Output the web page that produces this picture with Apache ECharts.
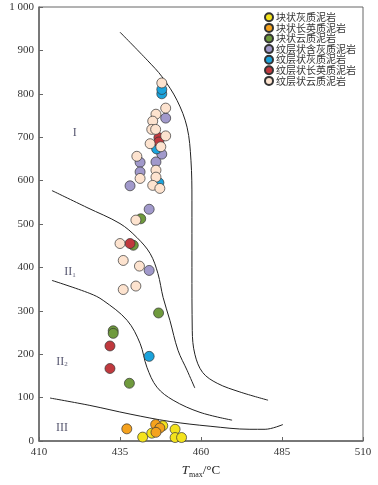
<!DOCTYPE html>
<html><head><meta charset="utf-8">
<script src="https://cdn.jsdelivr.net/npm/echarts@6/dist/echarts.min.js"></script>
<style>html,body{margin:0;padding:0;background:#fff}#c{width:378px;height:485px}</style>
</head><body><div id="c"></div>
<script>
// ---- data ----
const seriesNames = ['块状灰质泥岩','块状长英质泥岩','块状云质泥岩','纹层状含灰质泥岩','纹层状灰质泥岩','纹层状长英质泥岩','纹层状云质泥岩'];
const seriesColors = ['#f4e31c','#f5a21e','#6f9a3d','#a199cb','#1ba3dc','#c0393e','#fde3cf'];
const blockLimestone = [[442.0,9],[444.8,18],[448.2,35],[452.0,27],[452.0,8],[454.0,8]];
const blockFelsic = [[437.1,28],[446.0,38],[447.3,30],[446.1,20]];
const blockDolomitic = [[446.9,295],[432.9,254],[432.9,248],[437.9,133],[441.4,512],[439.1,451]];
const lamCalcareous = [[449.1,744],[447.9,661],[441.2,642],[441.2,620],[438.1,588],[446.1,643],[444.0,534],[444.0,393]];
const lamLimestone = [[447.9,800],[447.9,810],[446.3,673],[447.0,595],[444.0,195]];
const lamFelsic = [[447.0,699],[447.0,689],[438.1,455],[431.9,219],[431.9,167]];
const lamDolomitic = [[447.9,825],[449.1,767],[446.1,753],[445.1,737],[444.8,718],[446.0,718],[449.1,703],[444.3,685],[447.6,678],[440.2,656],[441.2,605],[446.1,624],[446.1,608],[445.1,589],[447.3,582],[439.9,509],[435.0,455],[436.0,416],[441.0,403],[436.0,349],[439.9,357]];
const allSeries = [blockLimestone,blockFelsic,blockDolomitic,lamCalcareous,lamLimestone,lamFelsic,lamDolomitic];

// boundary curves (x = Tmax, y = IH)
const curveI = [[435,942],[443.6,876],[448,839],[452.6,785],[455.7,723],[456.9,647],[457.2,555],[457.2,400],[457.3,255],[458.1,200],[460.5,158],[465,133],[472,113],[480.7,94]];
const curveII1 = [[414,577],[424.8,538],[435,501],[440.2,469],[444.3,432],[446.7,386],[448.3,331],[450.4,278],[452.9,209],[455.7,163],[458.1,122]];
const curveII2 = [[414,370],[425.7,340],[429.8,324],[437.2,278],[441.2,225],[443.3,170],[446.4,124],[451.4,94],[459.7,66],[469.6,48]];
const curveIII = [[413.4,99],[425.7,82],[438.1,62],[450.4,45],[462.8,34],[475.1,27],[479.8,27],[485.3,38]];
const curves = [curveI, curveII1, curveII2, curveIII];

const regionLabels = [['I',421,710],['II{s|1}',419.6,390],['II{s|2}',417.1,183],['III',417.1,31]];
const xTicks = [410,435,460,485,510];
const yTicks = [0,100,200,300,400,500,600,700,800,900,1000];

// ---- chart ----
const serif = '"Liberation Serif","Times New Roman","Noto Sans CJK SC",serif';
const chart = echarts.init(document.getElementById('c'), null, {renderer:'canvas'});
const series = [];
curves.forEach(c => series.push({
  type:'line', data:c, smooth:0.35, symbol:'none', silent:true,
  lineStyle:{color:'#222', width:1}, z:1
}));
allSeries.forEach((d,i) => series.push({
  name: seriesNames[i], type:'scatter', data:d, symbol:'circle', symbolSize:10,
  itemStyle:{color:seriesColors[i], borderColor:'#333', borderWidth:0.7, opacity:1}, z:3
}));
series.push({
  type:'scatter', silent:true, symbolSize:0, z:4,
  data: regionLabels.map(r => ({value:[r[1],r[2]], name:r[0]})),
  label:{show:true, position:'inside', formatter:p=>p.name,
    fontFamily:serif, fontSize:12, color:'#2a2a4a',
    rich:{s:{fontSize:7, fontFamily:serif, color:'#2a2a4a', verticalAlign:'bottom', padding:[6,0,0,0]}}}
});
chart.setOption({
  animation:false,
  grid:{left:39, right:15, top:7, bottom:44, show:true, borderColor:'#666', borderWidth:1,
        containLabel:false, outerBoundsMode:'none'},
  legend:{
    data:seriesNames, orient:'vertical', left:264, top:12, padding:0,
    itemWidth:8, itemHeight:8, itemGap:0, icon:'circle',
    textStyle:{fontFamily:'"Noto Sans CJK SC",serif', fontSize:10, lineHeight:10.6, color:'#333', padding:[0,0,0,-2]}
  },
  xAxis:{
    type:'value', min:410, max:510, interval:25,
    name:'{i|T}{s|max}/°C', nameLocation:'middle', nameGap:22,
    nameTextStyle:{fontFamily:serif, fontSize:13, color:'#222',
      rich:{i:{fontStyle:'italic', fontFamily:serif, fontSize:13, color:'#222'},
            s:{fontFamily:serif, fontSize:8, color:'#222', verticalAlign:'bottom', padding:[8,0,0,0]}}},
    axisLine:{lineStyle:{color:'#666', width:1.5}},
    axisTick:{inside:true, length:4, lineStyle:{color:'#666'}},
    axisLabel:{fontFamily:serif, fontSize:11, color:'#333', margin:6},
    splitLine:{show:false}
  },
  yAxis:{
    type:'value', min:0, max:1000, interval:100,
    name:'{i|I}{s|H}/(mg/g)', nameLocation:'middle', nameGap:19, nameRotate:90,
    nameTextStyle:{fontFamily:serif, fontSize:12, color:'#222',
      rich:{i:{fontStyle:'italic', fontFamily:serif, fontSize:12, color:'#222'},
            s:{fontFamily:serif, fontSize:7, color:'#222', verticalAlign:'bottom', padding:[7,0,0,0]}}},
    axisLine:{lineStyle:{color:'#666', width:1.5}},
    axisTick:{inside:true, length:4, lineStyle:{color:'#666'}},
    axisLabel:{fontFamily:serif, fontSize:11, color:'#333', margin:5,
      formatter:v => v>=1000 ? '1 000' : String(v)},
    splitLine:{show:false}
  },
  series: series
});
</script>
</body></html>
